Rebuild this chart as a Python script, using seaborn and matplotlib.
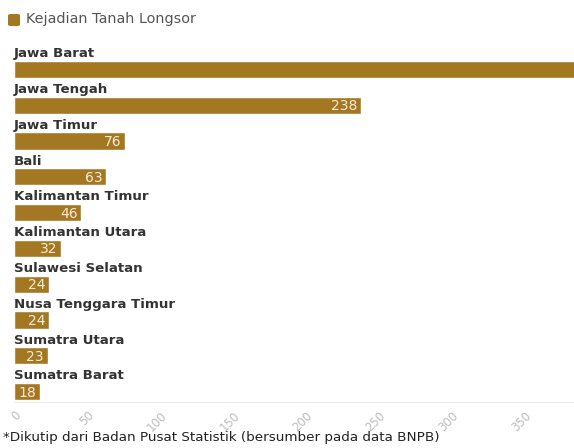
import matplotlib
matplotlib.use("Agg")
import matplotlib.pyplot as plt
from matplotlib.patches import FancyBboxPatch
import seaborn as sns
import pandas as pd

provinces = ["Jawa Barat", "Jawa Tengah", "Jawa Timur", "Bali", "Kalimantan Timur",
             "Kalimantan Utara", "Sulawesi Selatan", "Nusa Tenggara Timur",
             "Sumatra Utara", "Sumatra Barat"]
values = [430, 238, 76, 63, 46, 32, 24, 24, 23, 18]
x_ticks = [0, 50, 100, 150, 200, 250, 300, 350]
series_name = "Kejadian Tanah Longsor"
footnote = "*Dikutip dari Badan Pusat Statistik (bersumber pada data BNPB)"

BAR = "#A47822"

sns.set_theme(style="white")
plt.rcParams['font.family'] = ['DejaVu Sans']

df = pd.DataFrame({"prov": provinces, "val": values})

fig = plt.figure(figsize=(5.74, 4.48), dpi=100)
ax = fig.add_axes([14/574, 46/448, 560/574, 358/448])

sns.barplot(data=df, x="val", y="prov", orient="h", color=BAR, width=0.48,
            saturation=1, ax=ax)

ax.set_xlim(0, 560/1.46)
ax.set_ylim(len(provinces) - 1 + 0.29, -0.71)
ax.set_xlabel("")
ax.set_ylabel("")
ax.set_yticks([])
ax.set_xticks(x_ticks)
ax.set_xticklabels([str(t) for t in x_ticks], rotation=45, ha="right",
                   va="top", rotation_mode="anchor", color="#bdbdbd", fontsize=8.5)
ax.tick_params(axis="x", length=3, color="#e6e6e6", pad=2)
for s in ["top", "right", "left"]:
    ax.spines[s].set_visible(False)
ax.spines["bottom"].set_color("#ececec")
ax.spines["bottom"].set_linewidth(0.8)

for i, (p, v) in enumerate(zip(provinces, values)):
    ax.text(0, i - 0.24 - 0.02, p, ha="left", va="bottom", fontsize=9.6,
            fontweight="bold", color="#333333")
    if v <= ax.get_xlim()[1]:
        ax.text(v - 2.5, i + 0.03, str(v), ha="right", va="center", fontsize=10,
                color="#f5ecd8", clip_on=True)

# legend
fig.patches.append(FancyBboxPatch((8/574, 1 - 26/448), 12/574, 12/448,
                                  boxstyle="round,pad=0,rounding_size=0.004",
                                  transform=fig.transFigure, color=BAR, lw=0))
fig.text(26/574, 1 - 19/448, series_name, ha="left", va="center",
         fontsize=10.4, color="#555555")

fig.text(3/574, 1 - 437/448, footnote, ha="left", va="center",
         fontsize=9.7, color="#222222")

fig.savefig("out.png", dpi=100)
